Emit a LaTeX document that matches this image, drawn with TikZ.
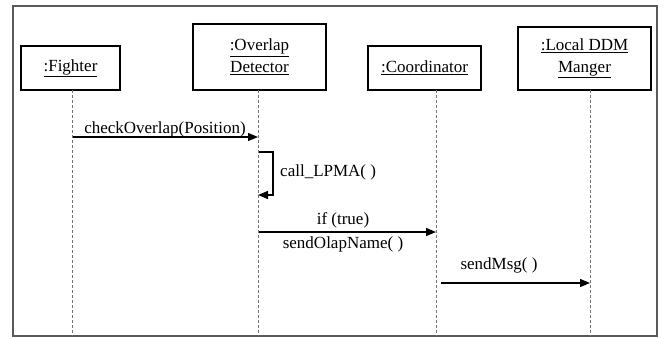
\documentclass[tikz,border=0pt]{standalone}
\usepackage{fontspec}
\setmainfont{Liberation Serif}
\usetikzlibrary{arrows.meta}

\tikzset{
  frame/.style={draw=black!65, line width=1.4pt},
  obj/.style={draw=black, line width=1.1pt, align=center, inner sep=0pt,
    font=\fontsize{17}{22}\selectfont},
  lifeline/.style={draw=black!55, line width=0.6pt, dash pattern=on 3pt off 2pt},
  msg/.style={draw=black, line width=1.3pt, -{Triangle[length=10pt,width=8pt]}},
  lbl/.style={font=\fontsize{17}{20}\selectfont, inner sep=0pt},
}

\begin{document}
\begin{tikzpicture}[x=1pt, y=-1pt]
  \useasboundingbox (0,0) rectangle (664,338);
  \draw[frame] (13,6) rectangle (657,336);

  % participants
  \node[obj, minimum width=99pt,  minimum height=44pt] (fighter) at (70.5,68)  {\underline{:Fighter}};
  \node[obj, minimum width=133pt, minimum height=66pt] (overlap) at (259.5,57) {\underline{:Overlap}\\\underline{Detector}};
  \node[obj, minimum width=113pt, minimum height=44pt] (coord)   at (424.5,68) {\underline{:Coordinator}};
  \node[obj, minimum width=133pt, minimum height=63pt] (ddm)     at (584.5,58.5) {\underline{:Local DDM}\\\underline{Manger}};

  % lifeline ends
  \coordinate (fT) at (72,90);   \coordinate (fB) at (72,336);
  \coordinate (oT) at (258,90);  \coordinate (oB) at (258,336);
  \coordinate (cT) at (436,90);  \coordinate (cB) at (436,336);
  \coordinate (dT) at (590,90);  \coordinate (dB) at (590,336);
  \draw[lifeline] (fT) -- (fB);
  \draw[lifeline] (oT) -- (oB);
  \draw[lifeline] (cT) -- (cB);
  \draw[lifeline] (dT) -- (dB);

  % message end points
  \coordinate (m1s) at (73,137);  \coordinate (m1e) at (258,137);
  \coordinate (m2s) at (259,152); \coordinate (m2a) at (273,152);
  \coordinate (m2b) at (273,195); \coordinate (m2e) at (258,195);
  \coordinate (m3s) at (259,232); \coordinate (m3e) at (436,232);
  \coordinate (m4s) at (441,283); \coordinate (m4e) at (590,283);

  % messages
  \draw[msg] (m1s) -- (m1e);
  \node[lbl, anchor=base] (l1) at (165,133) {checkOverlap(Position)};

  \draw[msg] (m2s) -- (m2a) -- (m2b) -- (m2e);
  \node[lbl, anchor=base west] (l2) at (280,176) {call\_LPMA( )};

  \draw[msg] (m3s) -- (m3e);
  \node[lbl, anchor=base] (l3a) at (343,224) {if (true)};
  \node[lbl, anchor=base] (l3b) at (343,248) {sendOlapName( )};

  \draw[msg] (m4s) -- (m4e);
  \node[lbl, anchor=base] (l4) at (499,269) {sendMsg( )};
\end{tikzpicture}
\end{document}
